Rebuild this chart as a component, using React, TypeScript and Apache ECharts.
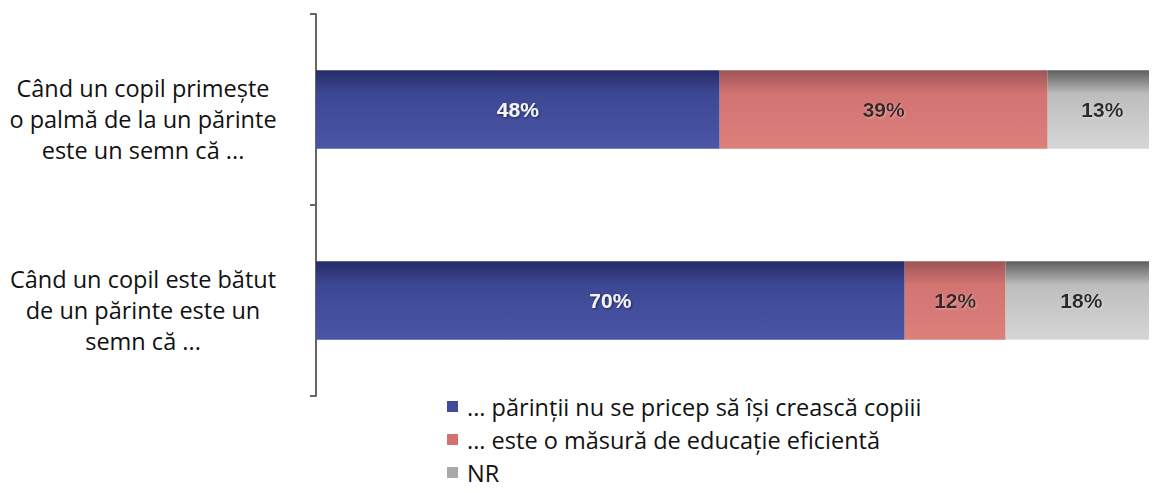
import React, { useEffect, useRef } from "react";
import * as echarts from "echarts";

const categories = [
  "Când un copil primește\no palmă de la un părinte\neste un semn că ...",
  "Când un copil este bătut\nde un părinte este un\nsemn că ...",
];
const seriesNames = [
  "... părinții nu se pricep să își crească copiii",
  "... este o măsură de educație eficientă",
  "NR",
];
const nuSePricep = [48, 70];
const masuraEficienta = [39, 12];
const nr = [13, 18];

const grad = (top: string, mid: string, bottom: string) =>
  new echarts.graphic.LinearGradient(0, 0, 0, 1, [
    { offset: 0, color: top },
    { offset: 0.3, color: mid },
    { offset: 1, color: bottom },
  ]);

export default function App() {
  const ref = useRef<HTMLDivElement>(null);
  useEffect(() => {
    const chart = echarts.init(ref.current!, undefined, { renderer: "svg" });
    const colors = [
      { fill: grad("#262c66", "#3d4894", "#4a56a6"), icon: "#3f4a9a", text: "#f4f4fa" },
      { fill: grad("#9e5456", "#d27472", "#dc807c"), icon: "#d2716f", text: "#3a2626" },
      { fill: grad("#5e5e5e", "#bdbdbd", "#d6d6d6"), icon: "#a8a8a8", text: "#2a2a2a" },
    ];
    const datas = [nuSePricep, masuraEficienta, nr];
    chart.setOption({
      animation: false,
      grid: { left: 316, right: -3, top: 14, bottom: 97, containLabel: false },
      legend: {
        orient: "vertical",
        left: 447,
        top: 394,
        height: 99,
        padding: 0,
        itemWidth: 11,
        itemHeight: 11,
        itemGap: 8,
        icon: "rect",
        textStyle: {
          fontFamily: "Open Sans",
          fontSize: 23.5,
          lineHeight: 25,
          color: "#111",
          padding: [0, 0, 0, 4],
        },
        data: seriesNames.map((n, i) => ({ name: n, itemStyle: { color: colors[i].icon } })),
      },
      xAxis: { type: "value", min: 0, max: 100, show: false },
      yAxis: {
        type: "category",
        inverse: true,
        data: categories,
        axisLine: { show: true, lineStyle: { color: "#666", width: 2 } },
        axisTick: { show: true, length: 6, lineStyle: { color: "#666", width: 2 } },
        axisLabel: {
          align: "center",
          margin: 173,
          formatter: (v: string) =>
            "{s| }\n" + v.split("\n").map((l) => `{a|${l}}`).join("\n"),
          rich: {
            s: { fontSize: 10, lineHeight: 18 },
            a: {
              fontFamily: "Open Sans",
              fontSize: 23.5,
              lineHeight: 31,
              color: "#111",
              align: "center",
            },
          },
        },
      },
      series: seriesNames.map((name, i) => ({
        name,
        type: "bar",
        stack: "total",
        barWidth: "41%",
        data: datas[i],
        itemStyle: { color: colors[i].fill },
        label: {
          show: true,
          position: "inside",
          formatter: "{c}%",
          fontFamily: "Arial",
          fontWeight: "bold",
          fontSize: 21,
          color: colors[i].text,
          textBorderWidth: 0,
          textShadowColor: i === 0 ? "rgba(0,0,0,0.5)" : "rgba(255,255,255,0.3)",
          textShadowBlur: 2,
          textShadowOffsetX: 1,
          textShadowOffsetY: 1,
        },
      })),
    });
    return () => chart.dispose();
  }, []);
  return <div ref={ref} style={{ width: 1157, height: 493, margin: -8 }} />;
}
